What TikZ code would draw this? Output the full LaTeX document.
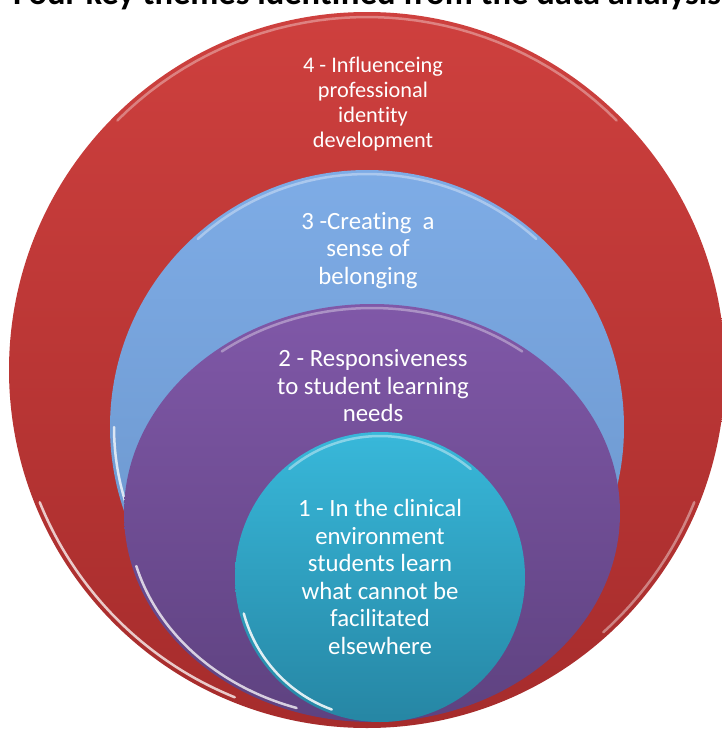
\documentclass[tikz,border=0pt]{standalone}
\usepackage{fontspec}
\setmainfont{Carlito}[Ligatures={NoCommon,NoRare}]
\usepackage{tikz}
\definecolor{redtop}{RGB}{206,64,62}
\definecolor{redbot}{RGB}{166,44,44}
\definecolor{bluetop}{RGB}{126,172,230}
\definecolor{bluebot}{RGB}{104,146,200}
\definecolor{purptop}{RGB}{128,88,168}
\definecolor{purpbot}{RGB}{94,66,128}
\definecolor{cyantop}{RGB}{56,184,218}
\definecolor{cyanbot}{RGB}{38,134,164}

\begin{document}
\begin{tikzpicture}[x=1pt, y=-1pt,
  theme/.style={text=white, align=center, inner sep=0pt},
  gloss/.style={white, line width=2.5pt, line cap=round, opacity=0.5, samples=40}]
\useasboundingbox (0,0) rectangle (722,731);
% title, cut by the top edge
\node[anchor=base west, inner sep=0pt, font=\fontsize{34.5}{40}\selectfont\bfseries] (title) at (13,4) {Four key themes identified from the data analysis};
% 4 - outer ring
\shade[top color=redtop, bottom color=redbot] (367,370) circle (358);
\draw[gloss, opacity=0.35] plot[domain=225:315] ({367+353*cos(\x)}, {370+353*sin(\x)});
\draw[gloss, opacity=0.75] plot[domain=112:158] ({367+353*cos(\x)}, {370+353*sin(\x)});
\draw[gloss, opacity=0.4] plot[domain=22:48] ({367+353*cos(\x)}, {370+353*sin(\x)});
% 3
\shade[top color=bluetop, bottom color=bluebot] (367,427) circle (257);
\draw[gloss, opacity=0.35] plot[domain=228:312] ({367+253*cos(\x)}, {427+253*sin(\x)});
\draw[gloss, opacity=0.75] plot[domain=160:180] ({367+253*cos(\x)}, {427+253*sin(\x)});
% 2
\shade[top color=purptop, bottom color=purpbot] (372,513) ellipse [x radius=248, y radius=209];
\draw[gloss, opacity=0.35] plot[domain=232:308] ({372+244*cos(\x)}, {513+205*sin(\x)});
\draw[gloss, opacity=0.75] plot[domain=108:165] ({372+244*cos(\x)}, {513+205*sin(\x)});
% 1 - inner circle
\shade[top color=cyantop, bottom color=cyanbot] (380,577) circle (145);
\draw[gloss, opacity=0.4] plot[domain=230:310] ({380+141*cos(\x)}, {577+141*sin(\x)});
\draw[gloss, opacity=0.85] plot[domain=110:165] ({380+141*cos(\x)}, {577+141*sin(\x)});
% labels
\node[theme, font=\fontsize{22.3}{25}\selectfont] (t4) at (373,104) {4 - Influenceing\\professional\\identity\\development};
\node[theme, font=\fontsize{24.8}{27.5}\selectfont] (t3) at (368,250.5) {3 -Creating\ \ a\\sense of\\belonging};
\node[theme, font=\fontsize{24.8}{27.5}\selectfont] (t2) at (373,386) {2 - Responsiveness\\to student learning\\needs};
\node[theme, font=\fontsize{24.8}{27.5}\selectfont] (t1) at (380,577) {1 - In the clinical\\environment\\students learn\\what cannot be\\facilitated\\elsewhere};
\end{tikzpicture}
\end{document}
